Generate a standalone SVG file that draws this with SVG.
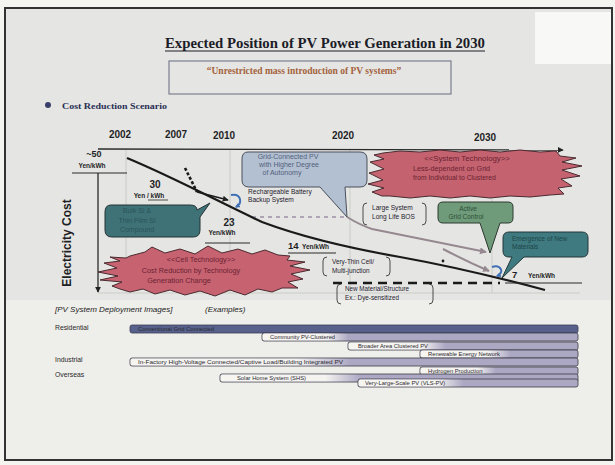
<svg xmlns="http://www.w3.org/2000/svg" width="615" height="465" viewBox="0 0 615 465">
<style>
.yr{font-family:"Liberation Sans",Arial,sans-serif;font-weight:bold;font-size:10px;fill:#1f1f26;text-anchor:middle}
.val{font-family:"Liberation Sans",Arial,sans-serif;font-weight:bold;fill:#1f1f26}
.lbl{font-family:"Liberation Sans",Arial,sans-serif;fill:#1f2030}
.bal{font-family:"Liberation Sans",Arial,sans-serif;text-anchor:middle}
.bs{font-family:"Liberation Sans",Arial,sans-serif;text-anchor:start}
.bar{fill:#aca8c4;stroke:#3a3a44;stroke-width:0.8}
.fade{fill:url(#fade)}
.bt{font-family:"Liberation Sans",Arial,sans-serif;font-size:5.8px;fill:#2a2a33}
.grid{stroke:#cacbc6;stroke-width:1;fill:none}
.brk{fill:none;stroke:#3a3a3a;stroke-width:0.9}
.side{font-family:"Liberation Sans",Arial,sans-serif;font-size:6.8px;fill:#2a2a2a}
</style>
<defs>
<linearGradient id="fade" x1="0" y1="0" x2="1" y2="0">
<stop offset="0" stop-color="#f7f5f0" stop-opacity="1"/>
<stop offset="0.75" stop-color="#f5f3f0" stop-opacity="1"/>
<stop offset="1" stop-color="#f5f3f0" stop-opacity="0"/>
</linearGradient>
<marker id="ab" viewBox="0 0 8 8" refX="7" refY="4" markerWidth="6" markerHeight="6" orient="auto" markerUnits="userSpaceOnUse"><path d="M0,0 L8,4 L0,8 z" fill="#222"/></marker>
<marker id="ag" viewBox="0 0 8 8" refX="7" refY="4" markerWidth="7" markerHeight="7" orient="auto" markerUnits="userSpaceOnUse"><path d="M0,0 L8,4 L0,8 z" fill="#968890"/></marker>
<marker id="abl" viewBox="0 0 8 8" refX="6" refY="4" markerWidth="5" markerHeight="5" orient="auto" markerUnits="userSpaceOnUse"><path d="M0,0 L8,4 L0,8 z" fill="#3f6fb5"/></marker>
</defs>

<rect x="0" y="0" width="615" height="465" fill="#f4f4f1"/>
<rect x="5" y="8" width="607" height="452" fill="#e5e6e3" stroke="#333" stroke-width="2"/>
<rect x="6" y="300" width="605" height="159" fill="#eeeeea"/>
<rect x="535" y="12" width="76" height="52" fill="#f8f8f6"/>

<g id="title">
<text x="325" y="48" text-anchor="middle" font-family="'Liberation Serif','Times New Roman',serif" font-weight="bold" font-size="15" fill="#1c1c28" textLength="320" lengthAdjust="spacingAndGlyphs">Expected Position of PV Power Generation in 2030</text>
<line x1="165" y1="51" x2="485" y2="51" stroke="#1c1c28" stroke-width="1"/>
</g>
<g id="subtitle">
<rect x="169" y="61" width="282" height="33" fill="none" stroke="#7a7f90" stroke-width="1.2"/>
<text x="304" y="74" text-anchor="middle" font-family="'Liberation Serif','Times New Roman',serif" font-weight="bold" font-size="9.5" fill="#a3623c">“Unrestricted mass introduction of PV systems”</text>
</g>
<g id="scenario">
<circle cx="48" cy="105" r="3" fill="#3a3f6a"/>
<text x="62" y="108.5" font-family="'Liberation Serif','Times New Roman',serif" font-weight="bold" font-size="8.5" fill="#2a2f55" textLength="105" lengthAdjust="spacingAndGlyphs">Cost Reduction Scenario</text>
</g>

<g id="connectors">
<line class="grid" x1="126" y1="149" x2="126" y2="293"/>
<line class="grid" x1="230" y1="149" x2="230" y2="293"/>
<line class="grid" x1="350" y1="149" x2="350" y2="293"/>
<line class="grid" x1="492" y1="149" x2="492" y2="293"/>
<line class="grid" x1="98" y1="293" x2="580" y2="293"/>
<line x1="98" y1="149" x2="563" y2="150" stroke="#2a2a2a" stroke-width="1.3" marker-end="url(#ab)"/>
<line x1="72" y1="173" x2="127" y2="173" stroke="#2a2a2a" stroke-width="1.2"/>
<line x1="98" y1="173" x2="98" y2="292" stroke="#2a2a2a" stroke-width="1.3" marker-end="url(#ab)"/>
<path d="M252,217 H345" stroke="#9a90a8" stroke-width="1.6" stroke-dasharray="4,4" fill="none"/>
<path d="M347,217 Q360,225 372,229 L486,252" stroke="#968890" stroke-width="2" fill="none" marker-end="url(#ag)"/>
<path d="M443,249 Q468,262 489,271" stroke="#968890" stroke-width="2" fill="none" marker-end="url(#ag)"/>
<path d="M127,158 C175,178 215,200 262,222 C310,240 360,250 400,257 C450,266 500,278 545,290" stroke="#1a1a1a" stroke-width="2.2" fill="none"/>
<path d="M185,168 L197,192" stroke="#1a1a1a" stroke-width="2.6" stroke-dasharray="3,2" fill="none"/>
<path d="M197,192 L228,200" stroke="#1a1a1a" stroke-width="1.4" fill="none" marker-end="url(#ab)"/>
<path d="M231,195 C241,193 243,203 236,207" stroke="#3f6fb5" stroke-width="2" fill="none" marker-end="url(#abl)"/>
<path d="M492,267 C501,264 505,273 497,276" stroke="#3f6fb5" stroke-width="2" fill="none" marker-end="url(#abl)"/>
<path d="M333,283 H500" stroke="#1a1a1a" stroke-width="2.6" stroke-dasharray="9,6" fill="none"/>
<line x1="505" y1="283" x2="582" y2="283" stroke="#2a2a2a" stroke-width="1"/>
<line x1="288" y1="253" x2="336" y2="253" stroke="#2a2a2a" stroke-width="1"/>
<line x1="205" y1="243" x2="250" y2="243" stroke="#2a2a2a" stroke-width="1"/>
<line x1="148" y1="200" x2="168" y2="200" stroke="#2a2a2a" stroke-width="0.8"/>
<circle cx="443" cy="261" r="1.4" fill="#1a1a1a"/>
</g>

<g id="axis-labels">
<text class="yr" x="120" y="138">2002</text>
<text class="yr" x="176" y="138">2007</text>
<text class="yr" x="224" y="139">2010</text>
<text class="yr" x="343" y="139">2020</text>
<text class="yr" x="485" y="141">2030</text>
<text x="71" y="243" transform="rotate(-90 71 243)" text-anchor="middle" font-family="'Liberation Sans',Arial,sans-serif" font-weight="bold" font-size="12" fill="#1f1f26">Electricity Cost</text>
</g>

<g id="cost-values">
<text class="val" x="94" y="157" font-size="9" text-anchor="middle">~50</text>
<text class="val" x="92" y="168" font-size="6.5" text-anchor="middle">Yen/kWh</text>
<text class="val" x="155" y="188" font-size="10" text-anchor="middle">30</text>
<text class="val" x="149" y="198" font-size="6.5" text-anchor="middle">Yen / kWh</text>
<text class="val" x="229" y="226" font-size="10" text-anchor="middle">23</text>
<text class="val" x="222" y="235" font-size="6.5" text-anchor="middle">Yen/kWh</text>
<text class="val" x="288" y="249" font-size="9.5">14</text>
<text class="val" x="302" y="249" font-size="6.5">Yen/kWh</text>
<text class="val" x="512" y="278" font-size="9.5">7</text>
<text class="val" x="528" y="278" font-size="6.5">Yen/kWh</text>
</g>

<g id="grid-connected">
<path d="M248,152 H360 Q367,152 367,159 V180 Q367,187 360,187 H345 L347,217 L320,187 H249 Q242,187 242,180 V159 Q242,152 248,152 Z" fill="#b3c0d1" stroke="#4a4f5a" stroke-width="1"/>
<text class="bal" x="288" y="159" font-size="7" fill="#52617e">Grid-Connected PV</text>
<text class="bal" x="289" y="167" font-size="7" fill="#52617e">with Higher Degree</text>
<text class="bal" x="282" y="175" font-size="7" fill="#52617e">of Autonomy</text>
</g>
<g id="battery">
<text class="lbl" x="248" y="194" font-size="6.6">Rechargeable Battery</text>
<text class="lbl" x="248" y="202" font-size="6.6">Backup System</text>
</g>
<g id="system-tech">
<polygon points="383,153 400,151 420,152 440,150 460,152 480,150 500,152 520,150 540,152 556,151 560,156 576,158 562,162 582,166 562,170 580,176 561,179 572,186 558,188 564,194 550,195 530,197 510,196 490,198 470,196 450,198 430,196 410,198 390,196 382,196 372,192 384,188 368,184 383,180 369,173 384,169 370,162 384,159 374,155" fill="#c4626f" stroke="#4a2a30" stroke-width="1"/>
<text class="bal" x="467" y="161" font-size="7.8" fill="#6b2232">&lt;&lt;System Technology&gt;&gt;</text>
<text class="bs" x="413" y="171" font-size="7.2" fill="#6b2232">Less-dependent on Grid</text>
<text class="bs" x="413" y="180" font-size="6.8" fill="#6b2232">from Individual to Clustered</text>
</g>
<g id="large-system">
<path class="brk" d="M367,203 Q363,203 363,207 V221 Q363,225 367,225 M422,203 Q426,203 426,207 V221 Q426,225 422,225"/>
<text class="lbl" x="372" y="210" font-size="6.6">Large System</text>
<text class="lbl" x="372" y="219" font-size="6.6">Long Life BOS</text>
</g>
<g id="active-grid">
<path d="M443,202 H508 Q513,202 513,207 V218 Q513,223 508,223 H500 L490,253 L480,223 H443 Q438,223 438,218 V207 Q438,202 443,202 Z" fill="#6f9b7a" stroke="#2e3a30" stroke-width="1"/>
<text class="bal" x="468" y="211" font-size="6.5" fill="#2e5038">Active</text>
<text class="bal" x="466" y="219" font-size="6.5" fill="#2e5038">Grid Control</text>
</g>
<g id="new-materials">
<path d="M509,232 H582 Q588,232 588,238 V251 Q588,257 582,257 H524 L502,278 L512,257 H509 Q503,257 503,251 V238 Q503,232 509,232 Z" fill="#3e7a80" stroke="#233638" stroke-width="1"/>
<text class="bs" x="512" y="241" font-size="6.5" fill="#1f4549">Emergence of New</text>
<text class="bs" x="512" y="249" font-size="6.5" fill="#1f4549">Materials</text>
</g>
<g id="bulk-si">
<path d="M111,205 H190 Q197,205 197,210 L210,203 L200,217 V230 Q200,237 193,237 H112 Q105,237 105,230 V212 Q105,205 111,205 Z" fill="#3f7277" stroke="#243234" stroke-width="1"/>
<text class="bal" x="137" y="213" font-size="7" fill="#2a5458">Bulk Si &amp;</text>
<text class="bal" x="137" y="223" font-size="7" fill="#2a5458">Thin Film Si</text>
<text class="bal" x="137" y="232" font-size="7" fill="#2a5458">Compound</text>
</g>
<g id="cell-tech">
<polygon points="130,256 145,252 152,247 165,253 180,249 195,254 208,246 222,253 238,249 252,254 265,250 278,255 290,256 287,260 305,262 290,266 310,270 291,274 303,279 288,282 298,288 282,288 272,292 258,289 245,295 230,290 215,296 200,291 185,295 170,290 155,294 143,289 130,292 120,289 112,286 122,282 100,280 118,276 98,272 117,268 104,263 120,261 110,257 126,258" fill="#c76271" stroke="#4a2a30" stroke-width="1"/>
<text class="bal" x="201" y="262" font-size="7.3" fill="#6b2232">&lt;&lt;Cell Technology&gt;&gt;</text>
<text class="bal" x="191" y="273" font-size="7.3" fill="#6b2232">Cost Reduction by Technology</text>
<text class="bal" x="179" y="283" font-size="7.3" fill="#6b2232">Generation Change</text>
</g>
<g id="very-thin">
<path class="brk" d="M327,257 Q323,257 323,261 V272 Q323,276 327,276 M386,257 Q390,257 390,261 V272 Q390,276 386,276"/>
<text class="lbl" x="332" y="264" font-size="6.4">Very-Thin Cell/</text>
<text class="lbl" x="332" y="273" font-size="6.4">Multi-junction</text>
</g>
<g id="new-material">
<path class="brk" d="M341,284 Q337,284 337,288 V300 Q337,304 341,304 M429,284 Q433,284 433,288 V300 Q433,304 429,304"/>
<text class="lbl" x="345" y="291" font-size="6.3">New Material/Structure</text>
<text class="lbl" x="345" y="300" font-size="6.3">Ex.: Dye-sensitized</text>
</g>

<g id="deployment-header">
<text x="55" y="312" font-family="'Liberation Sans',Arial,sans-serif" font-style="italic" font-size="8" fill="#222">[PV System Deployment Images]</text>
<text x="205" y="312" font-family="'Liberation Sans',Arial,sans-serif" font-style="italic" font-size="8" fill="#222">(Examples)</text>
<text class="side" x="55" y="330">Residential</text>
<text class="side" x="55" y="362">Industrial</text>
<text class="side" x="55" y="377">Overseas</text>
</g>

<g id="bar-conventional">
<rect x="130" y="325" width="448" height="8" rx="2" fill="#57618b" stroke="#3a3d55" stroke-width="0.8"/>
<text class="bt" x="138" y="331.2" fill="#c9ccd9">Conventional Grid Connected</text>
</g>
<g id="bar-community">
<rect class="bar" x="262" y="333" width="316" height="8" rx="2"/>
<rect class="fade" x="262.5" y="333.5" width="86" height="7" rx="2"/>
<text class="bt" x="270" y="339.2">Community PV-Clustered</text>
</g>
<g id="bar-broader">
<rect class="bar" x="348" y="342" width="230" height="8" rx="2"/>
<rect class="fade" x="348.5" y="342.5" width="97" height="7" rx="2"/>
<text class="bt" x="358" y="348.2">Broader Area Clustered PV</text>
</g>
<g id="bar-renewable">
<rect class="bar" x="420" y="350" width="158" height="8" rx="2"/>
<rect class="fade" x="420.5" y="350.5" width="90" height="7" rx="2"/>
<text class="bt" x="428" y="356.2">Renewable Energy Network</text>
</g>
<g id="bar-infactory">
<rect class="bar" x="130" y="358" width="448" height="8" rx="2"/>
<rect class="fade" x="130.5" y="358.5" width="220" height="7" rx="2"/>
<text class="bt" x="138" y="364.2" textLength="205" lengthAdjust="spacingAndGlyphs">In-Factory High-Voltage Connected/Captive Load/Building Integrated PV</text>
</g>
<g id="bar-hydrogen">
<rect class="bar" x="420" y="367" width="158" height="8" rx="2"/>
<rect class="fade" x="420.5" y="367.5" width="75" height="7" rx="2"/>
<text class="bt" x="428" y="373.2">Hydrogen Production</text>
</g>
<g id="bar-shs">
<rect class="bar" x="220" y="374" width="358" height="8" rx="2"/>
<rect class="fade" x="220.5" y="374.5" width="140" height="7" rx="2"/>
<text class="bt" x="237" y="380.2">Solar Home System (SHS)</text>
</g>
<g id="bar-vls">
<rect class="bar" x="358" y="379" width="220" height="8" rx="2"/>
<rect class="fade" x="358.5" y="379.5" width="105" height="7" rx="2"/>
<text class="bt" x="365" y="385.2">Very-Large-Scale PV (VLS-PV)</text>
</g>
</svg>
